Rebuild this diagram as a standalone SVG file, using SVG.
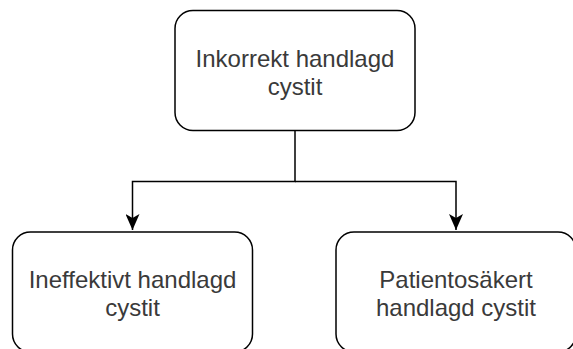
<svg xmlns="http://www.w3.org/2000/svg" width="573" height="349" viewBox="0 0 573 349">
<defs>
<style>
.box{fill:#ffffff;stroke:#000000;stroke-width:1.5}
.lbl{font-family:"Liberation Sans",Arial,sans-serif;font-size:24px;fill:#3a3a3a;text-anchor:middle}
.edge{fill:none;stroke:#000000;stroke-width:1.5}
</style>
<marker id="arr" markerUnits="userSpaceOnUse" viewBox="0 0 16 14" refX="16" refY="7" markerWidth="16" markerHeight="14" orient="auto">
<path d="M0,0 L16,7 L0,14 L4,7 Z" fill="#000000"/>
</marker>
</defs>
<rect width="573" height="349" fill="#ffffff"/>
<g id="connectors">
<path class="edge" d="M295,131 V181.5 H132.5 V230" marker-end="url(#arr)"/>
<path class="edge" d="M295,181.5 H456 V230" marker-end="url(#arr)"/>
</g>
<g id="node-top">
<rect class="box" x="175" y="10.5" width="240" height="120" rx="18" ry="18"/>
<text class="lbl" x="295" y="67">Inkorrekt handlagd</text>
<text class="lbl" x="295" y="95">cystit</text>
</g>
<g id="node-left">
<rect class="box" x="12.5" y="232" width="240" height="120" rx="18" ry="18"/>
<text class="lbl" x="132.5" y="288">Ineffektivt handlagd</text>
<text class="lbl" x="132.5" y="316">cystit</text>
</g>
<g id="node-right">
<rect class="box" x="336" y="232" width="240" height="120" rx="18" ry="18"/>
<text class="lbl" x="456" y="288">Patientosäkert</text>
<text class="lbl" x="456" y="316">handlagd cystit</text>
</g>
</svg>
